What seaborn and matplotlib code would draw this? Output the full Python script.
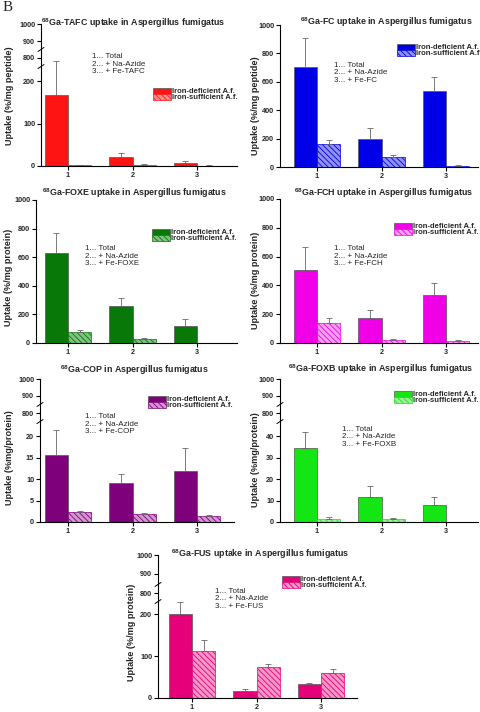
import matplotlib
matplotlib.use("Agg")
import matplotlib.pyplot as plt
import numpy as np
import pandas as pd
import seaborn as sns

sns.set_theme(style="ticks")
plt.rcParams["font.family"] = ["Liberation Sans", "DejaVu Sans"]
plt.rcParams["font.weight"] = "bold"
plt.rcParams["mathtext.fontset"] = "custom"
plt.rcParams["mathtext.rm"] = "Liberation Sans"
plt.rcParams["mathtext.bf"] = "Liberation Sans:bold"
plt.rcParams["hatch.linewidth"] = 0.6

conditions = ["1", "2", "3"]
strains = ["Iron-deficient A.f.", "Iron-sufficient A.f."]

# values (bar height, upper error)
tafc_def = [167, 21, 8]
tafc_def_err = [80, 9, 3]
tafc_suf = [2, 2, 1]
tafc_suf_err = [1, 2, 1]

fc_def = [703, 194, 533]
fc_def_err = [205, 80, 99]
fc_suf = [163, 72, 10]
fc_suf_err = [30, 13, 7]

foxe_def = [626, 262, 120]
foxe_def_err = [140, 56, 45]
foxe_suf = [75, 30, 2]
foxe_suf_err = [16, 5, 1]

fch_def = [510, 174, 334]
fch_def_err = [158, 53, 86]
fch_suf = [142, 23, 14]
fch_suf_err = [34, 7, 5]

cop_def = [15.5, 9.1, 11.8]
cop_def_err = [6.0, 2.2, 5.4]
cop_suf = [2.3, 1.95, 1.5]
cop_suf_err = [0.3, 0.25, 0.2]

foxb_def = [34.4, 11.6, 7.7]
foxb_def_err = [7.5, 5.3, 4.0]
foxb_suf = [1.6, 1.4, 0]
foxb_suf_err = [0.7, 0.5, 0]

fus_def = [200, 17, 34]
fus_def_err = [29, 4, 2]
fus_suf = [112, 73, 59]
fus_suf_err = [26, 8, 10]

W, H = 480, 712
SPACING = 64.5  # px between category centres

panels = [
    dict(name="TAFC", title="Ga-TAFC uptake in Aspergillus fumigatus", ylabel="Uptake (%/mg peptide)",
         d=tafc_def, de=tafc_def_err, s=tafc_suf, se=tafc_suf_err, c="#ff1414", lc="#ff8c8c",
         box=(41, 237, 24, 166), t1=68, brk=(58, 255, [0, 100, 200]),
         title_xy=(133, 23), leg_xy=(153, 88), ann_xy=(92, 53), yl_xy=(10, 96)),
    dict(name="FC", title="Ga-FC uptake in Aspergillus fumigatus", ylabel="Uptake (%/mg peptide)",
         d=fc_def, de=fc_def_err, s=fc_suf, se=fc_suf_err, c="#0000e6", lc="#9090f0",
         box=(280, 478, 25, 167), t1=317, brk=None,
         title_xy=(386, 22), leg_xy=(397, 44), ann_xy=(334, 62), yl_xy=(255, 106)),
    dict(name="FOXE", title="Ga-FOXE uptake in Aspergillus fumigatus", ylabel="Uptake (%/mg protein)",
         d=foxe_def, de=foxe_def_err, s=foxe_suf, se=foxe_suf_err, c="#087808", lc="#80c080",
         box=(36, 237, 200, 343), t1=68, brk=None,
         title_xy=(134, 193), leg_xy=(152, 229), ann_xy=(85, 245), yl_xy=(9, 277)),
    dict(name="FCH", title="Ga-FCH uptake in Aspergillus fumigatus", ylabel="Uptake (%/mg protein)",
         d=fch_def, de=fch_def_err, s=fch_suf, se=fch_suf_err, c="#f000e6", lc="#f8a0f0",
         box=(280, 478, 199, 343), t1=317, brk=None,
         title_xy=(383, 193), leg_xy=(394, 223), ann_xy=(334, 245), yl_xy=(255, 280)),
    dict(name="COP", title="Ga-COP in Aspergillus fumigatus", ylabel="Uptake (%mg/protein)",
         d=cop_def, de=cop_def_err, s=cop_suf, se=cop_suf_err, c="#7e007a", lc="#d496d0",
         box=(40, 234, 379, 522), t1=68, brk=(413, 25.4, [0, 5, 10, 15, 20]),
         title_xy=(134, 370), leg_xy=(148, 396), ann_xy=(85, 413), yl_xy=(10, 458)),
    dict(name="FOXB", title="Ga-FOXB uptake in Aspergillus fumigatus", ylabel="Uptake (%mg/protein)",
         d=foxb_def, de=foxb_def_err, s=foxb_suf, se=foxb_suf_err, c="#14e614", lc="#a0f0a0",
         box=(280, 478, 379, 522), t1=317, brk=(413, 50.8, [0, 10, 20, 30, 40]),
         title_xy=(381, 369), leg_xy=(394, 391), ann_xy=(342, 426), yl_xy=(255, 460)),
    dict(name="FUS", title="Ga-FUS uptake in Aspergillus fumigatus", ylabel="Uptake (%/mg protein)",
         d=fus_def, de=fus_def_err, s=fus_suf, se=fus_suf_err, c="#e6007a", lc="#f496c8",
         box=(158, 357, 555, 698), t1=192, brk=(593, 251, [0, 100, 200]),
         title_xy=(260, 554), leg_xy=(282, 576), ann_xy=(215, 588), yl_xy=(132, 632)),
]


def fig_box(l, r, top, bottom):
    return [l / W, 1 - bottom / H, (r - l) / W, (bottom - top) / H]


def style_axis(ax, xlim):
    sns.despine(ax=ax)
    ax.set_facecolor("white")
    ax.set_xlim(*xlim)
    ax.set_xlabel("")
    ax.set_ylabel("")
    for sp in ("left", "bottom"):
        ax.spines[sp].set_linewidth(0.8)
        ax.spines[sp].set_color("black")
    ax.tick_params(axis="both", direction="out", length=3, width=0.8,
                   labelsize=5.2, pad=1.2, color="black")


def draw_bars(ax, p):
    df = pd.DataFrame({
        "cond": conditions * 2,
        "strain": [strains[0]] * 3 + [strains[1]] * 3,
        "uptake": list(p["d"]) + list(p["s"]),
    })
    sns.barplot(data=df, x="cond", y="uptake", hue="strain", palette=[p["c"], p["lc"]],
                width=0.72, errorbar=None, legend=False, saturation=1, ax=ax,
                edgecolor="#555555", linewidth=0.5)
    for bar in ax.containers[1]:
        bar.set_hatch("\\\\\\\\\\\\")
        bar.set_edgecolor(p["c"])
    for cont, err in zip(ax.containers, [p["de"], p["se"]]):
        xs = [b.get_x() + b.get_width() / 2 for b in cont]
        ys = [b.get_height() for b in cont]
        ax.errorbar(xs, ys, yerr=[np.zeros(len(err)), err], fmt="none", ecolor="#666666",
                    elinewidth=0.6, capsize=2, capthick=0.6)


fig = plt.figure(figsize=(W / 100, H / 100), dpi=100)

for p in panels:
    l, r, top, bottom = p["box"]
    xlim = ((l - p["t1"]) / SPACING, (r - p["t1"]) / SPACING)
    if p["brk"] is None:
        ax = fig.add_axes(fig_box(l, r, top, bottom))
        draw_bars(ax, p)
        ax.set_ylim(0, 1000)
        ax.set_yticks([0, 200, 400, 600, 800, 1000])
        style_axis(ax, xlim)
        low = ax
    else:
        ybrk, lowtop, lowticks = p["brk"]
        up = fig.add_axes(fig_box(l, r, top, ybrk))
        low = fig.add_axes(fig_box(l, r, ybrk, bottom))
        draw_bars(low, p)
        low.set_ylim(0, lowtop)
        low.set_yticks(lowticks)
        style_axis(low, xlim)
        up.set_ylim(800, 1000)
        up.set_yticks([800, 900, 1000])
        style_axis(up, xlim)
        up.spines["bottom"].set_visible(False)
        up.set_xticks([])
        # break marks on the y axis
        for dy in (-0.012, 0.012):
            fig.add_artist(plt.Line2D([(l - 3) / W, (l + 3) / W],
                                      [1 - (ybrk + 2) / H + dy, 1 - (ybrk - 2) / H + dy],
                                      color="black", lw=0.7))
    hd = low.containers[0][0]
    hs = low.containers[1][0]
    low.legend(handles=[hd, hs], labels=strains, loc="upper left",
               bbox_to_anchor=(p["leg_xy"][0] / W, 1 - p["leg_xy"][1] / H),
               bbox_transform=fig.transFigure, frameon=False, fontsize=5.5,
               handlelength=2.3, handleheight=0.75, handletextpad=0.15,
               labelspacing=-0.2, borderpad=0, borderaxespad=0)
    fig.text(p["title_xy"][0] / W, 1 - p["title_xy"][1] / H,
             r"$^{\mathbf{68}}$" + p["title"], ha="center", va="center", fontsize=6.4)
    fig.text(p["ann_xy"][0] / W, 1 - p["ann_xy"][1] / H,
             "1... Total\n2... + Na-Azide\n3... + Fe-" + p["name"],
             ha="left", va="top", fontsize=5.8, fontweight="normal", linespacing=1.1)
    fig.text(p["yl_xy"][0] / W, 1 - p["yl_xy"][1] / H, p["ylabel"], rotation=90,
             ha="center", va="center", fontsize=6.6)

fig.text(3 / W, 1 - 1 / H, "B", family="Liberation Serif", fontweight="normal",
         fontsize=11, ha="left", va="top")

fig.savefig("out.png", dpi=100)
